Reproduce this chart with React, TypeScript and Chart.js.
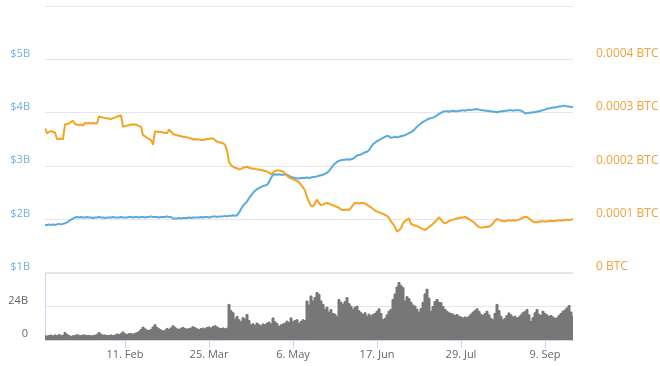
import React, { useEffect, useRef } from "react";
import { Chart, registerables } from "chart.js";

Chart.register(...registerables);

// x values are day-of-year indices (1 = 2 Jan)
const START_DAY = 1;
const X_MIN = 1;
const X_MAX = 265;

const tickDays = [41, 83, 125, 167, 209, 251];
const tickLabels = ["11. Feb", "25. Mar", "6. May", "17. Jun", "29. Jul", "9. Sep"];

// Market cap, billions USD (daily)
const marketCapB = [
  1.90, 1.90, 1.91, 1.90, 1.91, 1.90, 1.91, 1.92, 1.91, 1.92,
  1.93, 1.95, 1.97, 2.00, 2.02, 2.04, 2.05, 2.04, 2.05, 2.04,
  2.04, 2.05, 2.04, 2.04, 2.03, 2.04, 2.04, 2.05, 2.04, 2.04,
  2.03, 2.04, 2.04, 2.04, 2.05, 2.04, 2.04, 2.04, 2.05, 2.04,
  2.04, 2.04, 2.05, 2.05, 2.04, 2.05, 2.05, 2.04, 2.05, 2.05,
  2.04, 2.05, 2.05, 2.06, 2.05, 2.05, 2.05, 2.04, 2.05, 2.05,
  2.05, 2.06, 2.05, 2.05, 2.02, 2.02, 2.02, 2.03, 2.02, 2.03,
  2.03, 2.03, 2.04, 2.03, 2.04, 2.04, 2.04, 2.04, 2.05, 2.04,
  2.05, 2.05, 2.04, 2.05, 2.06, 2.06, 2.05, 2.06, 2.06, 2.06,
  2.07, 2.06, 2.07, 2.07, 2.08, 2.07, 2.08, 2.13, 2.20, 2.26,
  2.30, 2.34, 2.40, 2.45, 2.50, 2.54, 2.57, 2.59, 2.61, 2.63,
  2.64, 2.65, 2.70, 2.78, 2.84, 2.85, 2.84, 2.85, 2.84, 2.84,
  2.85, 2.84, 2.82, 2.80, 2.79, 2.78, 2.77, 2.77, 2.78, 2.78,
  2.78, 2.79, 2.78, 2.79, 2.80, 2.80, 2.81, 2.82, 2.83, 2.84,
  2.86, 2.88, 2.91, 2.96, 3.01, 3.05, 3.08, 3.10, 3.11, 3.12,
  3.12, 3.13, 3.12, 3.13, 3.14, 3.17, 3.20, 3.21, 3.22, 3.24,
  3.26, 3.27, 3.30, 3.36, 3.41, 3.44, 3.47, 3.49, 3.51, 3.53,
  3.55, 3.57, 3.56, 3.53, 3.54, 3.55, 3.54, 3.55, 3.56, 3.57,
  3.58, 3.60, 3.62, 3.64, 3.66, 3.70, 3.74, 3.77, 3.80, 3.83,
  3.85, 3.87, 3.89, 3.90, 3.91, 3.93, 3.95, 3.98, 4.00, 4.02,
  4.03, 4.03, 4.02, 4.03, 4.04, 4.03, 4.03, 4.04, 4.04, 4.05,
  4.04, 4.05, 4.06, 4.05, 4.06, 4.06, 4.07, 4.06, 4.05, 4.05,
  4.04, 4.04, 4.03, 4.03, 4.02, 4.02, 4.01, 4.02, 4.03, 4.03,
  4.04, 4.04, 4.05, 4.05, 4.04, 4.05, 4.05, 4.05, 4.04, 4.02,
  3.99, 3.99, 4.00, 4.00, 4.01, 4.01, 4.02, 4.03, 4.04, 4.05,
  4.06, 4.08, 4.08, 4.09, 4.10, 4.10, 4.11, 4.12, 4.12, 4.13,
  4.13, 4.12, 4.12, 4.11, 4.11,
];

// Price in units of 0.0001 BTC (daily)
const priceBtcE4 = [
  2.71, 2.62, 2.64, 2.66, 2.64, 2.63, 2.51, 2.51, 2.52, 2.51,
  2.78, 2.79, 2.80, 2.83, 2.85, 2.79, 2.78, 2.77, 2.78, 2.76,
  2.81, 2.80, 2.81, 2.80, 2.81, 2.80, 2.80, 2.93, 2.92, 2.91,
  2.90, 2.90, 2.89, 2.88, 2.90, 2.91, 2.93, 2.94, 2.95, 2.74,
  2.75, 2.76, 2.77, 2.78, 2.78, 2.78, 2.77, 2.75, 2.74, 2.58,
  2.56, 2.53, 2.51, 2.49, 2.41, 2.65, 2.65, 2.64, 2.64, 2.63,
  2.62, 2.62, 2.68, 2.65, 2.60, 2.59, 2.58, 2.57, 2.56, 2.55,
  2.55, 2.54, 2.53, 2.52, 2.50, 2.51, 2.50, 2.50, 2.49, 2.49,
  2.50, 2.51, 2.51, 2.52, 2.52, 2.49, 2.46, 2.45, 2.44, 2.43,
  2.40, 2.30, 2.08, 2.02, 1.99, 1.97, 1.96, 1.94, 1.95, 1.97,
  1.98, 1.99, 1.97, 1.96, 1.95, 1.95, 1.94, 1.94, 1.93, 1.92,
  1.91, 1.90, 1.88, 1.85, 1.88, 1.91, 1.92, 1.92, 1.91, 1.90,
  1.86, 1.82, 1.79, 1.77, 1.76, 1.74, 1.72, 1.70, 1.65, 1.60,
  1.55, 1.42, 1.33, 1.26, 1.25, 1.30, 1.37, 1.31, 1.27, 1.28,
  1.30, 1.31, 1.30, 1.28, 1.27, 1.25, 1.24, 1.22, 1.19, 1.18,
  1.18, 1.19, 1.18, 1.22, 1.27, 1.31, 1.31, 1.30, 1.31, 1.31,
  1.30, 1.28, 1.25, 1.23, 1.20, 1.17, 1.15, 1.14, 1.12, 1.11,
  1.09, 1.07, 1.03, 0.96, 0.92, 0.86, 0.78, 0.80, 0.84, 0.93,
  0.97, 1.00, 1.02, 0.92, 0.90, 0.89, 0.88, 0.86, 0.84, 0.82,
  0.81, 0.83, 0.86, 0.89, 0.92, 0.96, 1.00, 1.04, 1.00, 0.95,
  0.93, 0.95, 0.97, 0.99, 1.00, 1.01, 1.02, 1.03, 1.04, 1.04,
  1.05, 1.03, 1.01, 0.98, 0.96, 0.93, 0.89, 0.86, 0.85, 0.85,
  0.86, 0.86, 0.87, 0.89, 0.93, 0.98, 1.01, 1.00, 0.98, 0.97,
  0.97, 0.98, 0.99, 0.98, 0.99, 0.98, 0.99, 1.00, 1.02, 1.04,
  1.05, 1.05, 1.02, 0.99, 0.96, 0.95, 0.95, 0.96, 0.97, 0.97,
  0.96, 0.97, 0.97, 0.98, 0.97, 0.98, 0.98, 0.99, 0.98, 0.99,
  0.99, 1.00, 0.99, 1.00, 1.01,
];

// 24h volume, billions (daily)
const volumeB = [
  3.0, 2.8, 3.2, 3.5, 2.9, 3.6, 3.1, 3.8, 3.4, 3.2,
  5.3, 4.0, 3.2, 2.6, 3.0, 3.3, 3.7, 3.4, 3.1, 3.6,
  3.5, 3.2, 3.3, 3.0, 3.1, 3.4, 4.0, 5.3, 4.2, 3.5,
  3.6, 3.2, 3.3, 3.6, 3.2, 3.5, 4.3, 3.8, 4.5, 5.8,
  4.4, 4.0, 4.5, 4.6, 4.2, 4.8, 5.2, 6.0, 7.5, 9.2,
  8.0, 7.1, 6.8, 7.5, 9.3, 10.9, 9.0, 8.0, 7.2, 6.5,
  7.0, 8.3, 7.5, 8.6, 10.2, 9.1, 8.0, 7.6, 8.4, 9.0,
  8.2, 7.8, 8.1, 8.6, 9.5, 8.8, 8.0, 7.4, 8.2, 8.5,
  8.0, 8.9, 9.3, 8.5, 9.6, 10.2, 9.4, 8.5, 8.2, 8.6,
  8.0, 8.4, 25.5, 21.0, 19.6, 15.0, 16.9, 14.5, 13.0, 16.0,
  15.0, 18.2, 14.0, 10.9, 11.6, 10.5, 12.1, 11.0, 10.0, 11.5,
  11.0, 12.0, 12.9, 11.5, 15.8, 13.0, 11.8, 9.7, 10.8, 11.5,
  12.0, 13.5, 12.5, 15.8, 13.0, 14.0, 14.5, 12.0, 13.2, 14.5,
  14.0, 27.9, 25.0, 31.5, 28.0, 30.5, 34.0, 32.7, 28.0, 25.5,
  22.0, 23.5, 20.0, 21.8, 19.0, 18.5, 16.9, 29.0, 27.0, 25.5,
  27.5, 30.3, 26.0, 24.2, 22.0, 23.5, 24.2, 21.0, 19.5, 18.2,
  19.5, 17.0, 18.5, 17.2, 18.2, 19.0, 20.5, 22.3, 19.0, 14.5,
  15.5, 18.0, 20.6, 22.0, 29.0, 33.0, 38.0, 41.2, 39.0, 37.5,
  27.9, 31.0, 29.6, 27.0, 25.0, 24.2, 22.0, 19.9, 22.5, 27.0,
  33.0, 36.4, 30.0, 20.6, 24.0, 27.5, 29.0, 27.0, 26.7, 24.0,
  22.0, 20.6, 19.5, 19.0, 18.5, 17.5, 18.2, 17.0, 16.5, 15.8,
  16.5, 16.0, 17.0, 18.5, 20.0, 21.0, 22.3, 20.5, 18.5, 17.5,
  19.0, 20.6, 18.0, 15.5, 14.5, 19.0, 25.5, 21.0, 17.0, 14.5,
  15.5, 17.5, 19.4, 18.0, 16.5, 17.0, 15.8, 16.5, 18.0, 19.5,
  20.5, 21.8, 18.0, 13.3, 16.0, 19.5, 21.8, 18.5, 17.5, 20.6,
  19.0, 18.0, 16.9, 17.5, 16.5, 15.5, 15.8, 17.5, 19.0, 20.6,
  21.5, 23.0, 24.7, 20.0, 16.9,
];

const BLUE = "#5aa9df";
const BLUE_LABEL = "#74b1de";
const ORANGE = "#f5a422";
const ORANGE_LABEL = "#f2a33a";
const GREY_FILL = "#777777";
const GRID = "#e6e6e6";
const AXIS = "#ccd6eb";
const FONT = "'Open Sans', sans-serif";

function noPad(scale: any) {
  scale.paddingTop = 0;
  scale.paddingBottom = 0;
  scale.paddingLeft = 0;
  scale.paddingRight = 0;
}

export default function App() {
  const mainRef = useRef<HTMLCanvasElement | null>(null);
  const volRef = useRef<HTMLCanvasElement | null>(null);

  useEffect(() => {
    const capPts = marketCapB.map((v, i) => ({ x: START_DAY + i, y: v * 1e9 }));
    const pricePts = priceBtcE4.map((v, i) => ({ x: START_DAY + i, y: v * 1e-4 }));
    const volPts = volumeB.map((v, i) => ({ x: START_DAY + i, y: v * 1e9 }));

    const main = new Chart(mainRef.current as HTMLCanvasElement, {
      type: "line",
      data: {
        datasets: [
          {
            label: "Price (BTC)",
            data: pricePts,
            yAxisID: "y1",
            borderColor: ORANGE,
            borderWidth: 2,
            pointRadius: 0,
            tension: 0,
            borderJoinStyle: "round",
          },
          {
            label: "Market Cap",
            data: capPts,
            yAxisID: "y",
            borderColor: BLUE,
            borderWidth: 2,
            pointRadius: 0,
            tension: 0,
            borderJoinStyle: "round",
          },
        ],
      },
      options: {
        responsive: false,
        animation: false,
        events: [],
        layout: { padding: { left: 0, right: 0, top: 6, bottom: 7 } },
        plugins: { legend: { display: false }, tooltip: { enabled: false } },
        scales: {
          x: {
            type: "linear",
            min: X_MIN,
            max: X_MAX,
            display: false,
          },
          y: {
            position: "left",
            min: 1e9,
            max: 6e9,
            afterFit: (s: any) => {
              s.width = 45;
              noPad(s);
            },
            ticks: {
              stepSize: 1e9,
              padding: 15,
              crossAlign: "near",
              labelOffset: -6,
              color: BLUE_LABEL,
              font: { family: FONT, size: 11 },
              callback: (v: any) => (v >= 5.5e9 ? "" : "$" + Math.round(v / 1e9) + "B"),
            },
            grid: { color: GRID, drawTicks: false, lineWidth: 1 },
            border: { display: false },
          },
          y1: {
            position: "right",
            min: 0,
            max: 0.0005,
            afterFit: (s: any) => {
              s.width = 87;
              noPad(s);
            },
            ticks: {
              stepSize: 0.0001,
              padding: 15,
              crossAlign: "near",
              labelOffset: -6,
              color: ORANGE_LABEL,
              font: { family: FONT, size: 12 },
              callback: (v: any) =>
                v > 0.00045 ? "" : Math.abs(v) < 1e-9 ? "0 BTC" : Number(v).toFixed(4) + " BTC",
            },
            grid: { display: false },
            border: { display: false },
          },
        },
      },
    });

    const vol = new Chart(volRef.current as HTMLCanvasElement, {
      type: "line",
      data: {
        datasets: [
          {
            label: "Volume",
            data: volPts,
            borderColor: GREY_FILL,
            backgroundColor: GREY_FILL,
            borderWidth: 1,
            pointRadius: 0,
            stepped: "middle",
            fill: "origin",
          },
        ],
      },
      options: {
        responsive: false,
        animation: false,
        events: [],
        layout: { padding: { left: 0, right: 87, top: 3, bottom: 0 } },
        plugins: { legend: { display: false }, tooltip: { enabled: false } },
        scales: {
          x: {
            type: "linear",
            min: X_MIN,
            max: X_MAX,
            afterBuildTicks: (s: any) => {
              s.ticks = tickDays.map((v) => ({ value: v }));
            },
            afterFit: (s: any) => {
              s.height = 26;
              noPad(s);
            },
            ticks: {
              autoSkip: false,
              maxRotation: 0,
              padding: 0,
              color: "#666666",
              font: { family: FONT, size: 11 },
              callback: (v: any) => {
                const i = tickDays.indexOf(v);
                return i >= 0 ? tickLabels[i] : "";
              },
            },
            grid: { drawOnChartArea: false, drawTicks: true, tickLength: 8, color: AXIS },
            border: { display: true, color: AXIS },
          },
          y: {
            position: "left",
            min: 0,
            max: 48e9,
            afterFit: (s: any) => {
              s.width = 45;
              noPad(s);
            },
            ticks: {
              stepSize: 24e9,
              padding: 17,
              crossAlign: "near",
              labelOffset: -6,
              color: "#666666",
              font: { family: FONT, size: 11 },
              callback: (v: any) => (v >= 40e9 ? "" : v === 0 ? "0" : Math.round(v / 1e9) + "B"),
            },
            grid: {
              drawTicks: false,
              color: (c: any) => (c.tick && c.tick.value === 0 ? "rgba(0,0,0,0)" : GRID),
              lineWidth: (c: any) => (c.tick && c.tick.value === 48e9 ? 2 : 1),
            },
            border: { display: true, color: AXIS },
          },
        },
      },
    });

    return () => {
      main.destroy();
      vol.destroy();
    };
  }, []);

  return (
    <div style={{ position: "absolute", left: 0, top: 0, width: 660, height: 366, background: "#ffffff" }}>
      <canvas
        ref={mainRef}
        width={660}
        height={280}
        style={{ position: "absolute", left: 0, top: 0, width: 660, height: 280 }}
      />
      <canvas
        ref={volRef}
        width={660}
        height={96}
        style={{ position: "absolute", left: 0, top: 270, width: 660, height: 96 }}
      />
    </div>
  );
}
